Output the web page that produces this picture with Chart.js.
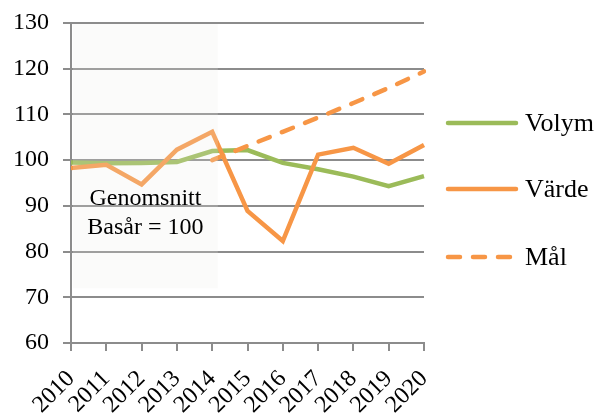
<!DOCTYPE html>
<html>
<head>
<meta charset="utf-8">
<script src="https://cdn.jsdelivr.net/npm/chart.js@4.4.1/dist/chart.umd.min.js"></script>
<style>
  html, body { margin: 0; padding: 0; background: #fff; }
  #wrap { width: 600px; height: 414px; position: relative; }
</style>
</head>
<body>
<div id="wrap"><canvas id="lineChart"></canvas></div>
<script>
const years = ['2010', '2011', '2012', '2013', '2014', '2015', '2016', '2017', '2018', '2019', '2020'];
const volym = [99.5, 99.3, 99.4, 99.6, 102.0, 102.2, 99.4, 98.0, 96.4, 94.3, 96.5];
const varde = [98.3, 99.0, 94.7, 102.3, 106.2, 88.9, 82.3, 101.2, 102.7, 99.2, 103.3];
const mal = [null, null, null, null, 100.0, 103.1, 106.2, 109.3, 112.5, 115.8, 119.4];
const yTicks = [60, 70, 80, 90, 100, 110, 120, 130];
const boxText = ['Genomsnitt', 'Basår = 100'];

const GREEN = '#9bbb59';
const ORANGE = '#f79646';
const GRID = '#8c8c8c';
const FONT = '"Liberation Serif", "Times New Roman", serif';

// grå ruta för basåren + text
const basePlugin = {
  id: 'baseBox',
  afterDatasetsDraw(chart) {
    const { ctx, scales: { x, y } } = chart;
    const left = x.getPixelForValue(0) + 2;
    const right = x.getPixelForValue(4.16);
    const top = y.getPixelForValue(130) + 1;
    const bottom = y.getPixelForValue(72);
    ctx.save();
    ctx.fillStyle = 'rgba(235,235,228,0.2)';
    ctx.fillRect(left, top, right - left, bottom - top);
    ctx.fillStyle = '#000';
    ctx.font = '24px ' + FONT;
    ctx.textAlign = 'center';
    ctx.textBaseline = 'middle';
    const cx = (left + right) / 2;
    ctx.fillText(boxText[0], cx, y.getPixelForValue(91.5));
    ctx.fillText(boxText[1], cx, y.getPixelForValue(85.2));
    ctx.restore();
  }
};

// egen förklaring till höger
const legendPlugin = {
  id: 'sideLegend',
  afterDraw(chart) {
    const { ctx } = chart;
    const rows = [123, 189, 257];
    ctx.save();
    chart.data.datasets.forEach((ds, i) => {
      const yy = rows[i];
      ctx.strokeStyle = ds.borderColor;
      ctx.lineWidth = ds.borderWidth;
      ctx.lineCap = 'round';
      ctx.setLineDash(ds.borderDash ? [12, 13] : []);
      ctx.beginPath();
      ctx.moveTo(448, yy);
      ctx.lineTo(516, yy);
      ctx.stroke();
      ctx.setLineDash([]);
      ctx.fillStyle = '#000';
      ctx.font = '26px ' + FONT;
      ctx.textAlign = 'left';
      ctx.textBaseline = 'middle';
      ctx.fillText(ds.label, 525, yy + 1);
    });
    ctx.restore();
  }
};

function createChart() {
  const ctx = document.getElementById('lineChart').getContext('2d');

  new Chart(ctx, {
    type: 'line',
    data: {
      labels: years,
      datasets: [
        {
          label: 'Volym',
          data: volym,
          borderColor: GREEN,
          borderWidth: 4.5,
          pointRadius: 0,
          fill: false,
          tension: 0,
          order: 3
        },
        {
          label: 'Värde',
          data: varde,
          borderColor: ORANGE,
          borderWidth: 4.5,
          pointRadius: 0,
          fill: false,
          tension: 0,
          order: 2
        },
        {
          label: 'Mål',
          data: mal,
          borderColor: ORANGE,
          borderWidth: 4.5,
          borderDash: [12, 13],
          borderCapStyle: 'round',
          pointRadius: 0,
          fill: false,
          tension: 0,
          order: 1
        }
      ]
    },
    options: {
      responsive: true,
      maintainAspectRatio: false,
      animation: false,
      layout: { padding: { top: 23, right: 176, left: 0, bottom: 0 } },
      scales: {
        y: {
          min: 60,
          max: 130,
          afterBuildTicks: (axis) => { axis.ticks = yTicks.map(v => ({ value: v })); },
          afterFit: (axis) => { axis.width = 71; axis.paddingTop = 0; axis.paddingBottom = 0; },
          ticks: { color: '#000', font: { family: FONT, size: 24 }, padding: 14 },
          grid: { color: GRID, lineWidth: 2, tickLength: 8, tickColor: GRID },
          border: { color: GRID, width: 2 }
        },
        x: {
          offset: false,
          afterFit: (axis) => { axis.height = 71; axis.paddingLeft = 0; axis.paddingRight = 0; },
          ticks: { color: '#000', font: { family: FONT, size: 24 }, maxRotation: 45, minRotation: 45, padding: 14, autoSkip: false },
          grid: { drawOnChartArea: false, color: GRID, lineWidth: 2, tickLength: 8, tickColor: GRID },
          border: { color: GRID, width: 2 }
        }
      },
      plugins: {
        legend: { display: false },
        tooltip: { enabled: false }
      }
    },
    plugins: [basePlugin, legendPlugin]
  });
}

document.addEventListener('DOMContentLoaded', createChart);
</script>
</body>
</html>
